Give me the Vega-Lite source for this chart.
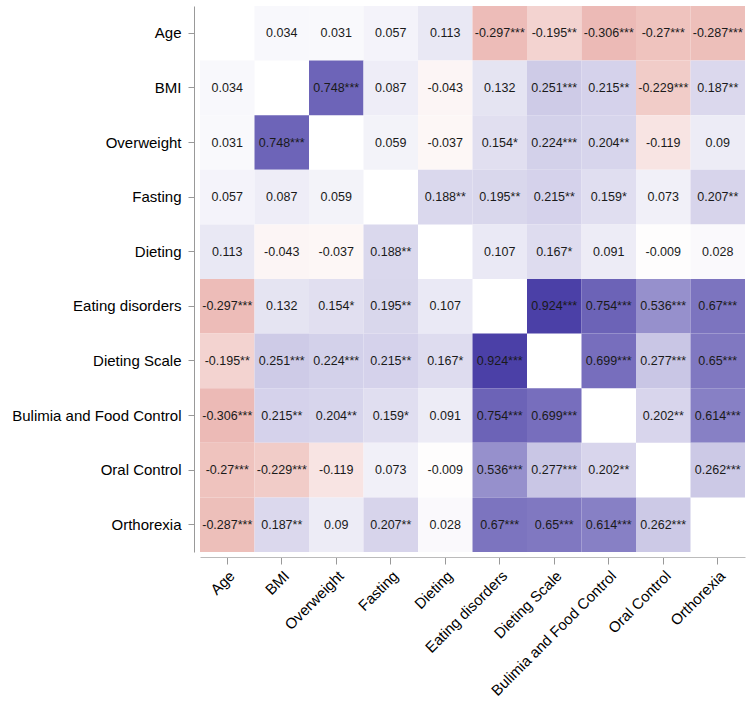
{
  "$schema": "https://vega.github.io/schema/vega-lite/v6.json",
  "autosize": {"type": "none"},
  "padding": {"left": 200, "top": 6, "right": 9, "bottom": 153},
  "width": 545,
  "height": 546,
  "config": {"view": {"stroke": null}, "font": "Liberation Sans"},
  "data": {"values": [
    {"r":"Age","c":"BMI","v":0.034,"t":"0.034"},
    {"r":"Age","c":"Overweight","v":0.031,"t":"0.031"},
    {"r":"Age","c":"Fasting","v":0.057,"t":"0.057"},
    {"r":"Age","c":"Dieting","v":0.113,"t":"0.113"},
    {"r":"Age","c":"Eating disorders","v":-0.297,"t":"-0.297***"},
    {"r":"Age","c":"Dieting Scale","v":-0.195,"t":"-0.195**"},
    {"r":"Age","c":"Bulimia and Food Control","v":-0.306,"t":"-0.306***"},
    {"r":"Age","c":"Oral Control","v":-0.27,"t":"-0.27***"},
    {"r":"Age","c":"Orthorexia","v":-0.287,"t":"-0.287***"},
    {"r":"BMI","c":"Age","v":0.034,"t":"0.034"},
    {"r":"BMI","c":"Overweight","v":0.748,"t":"0.748***"},
    {"r":"BMI","c":"Fasting","v":0.087,"t":"0.087"},
    {"r":"BMI","c":"Dieting","v":-0.043,"t":"-0.043"},
    {"r":"BMI","c":"Eating disorders","v":0.132,"t":"0.132"},
    {"r":"BMI","c":"Dieting Scale","v":0.251,"t":"0.251***"},
    {"r":"BMI","c":"Bulimia and Food Control","v":0.215,"t":"0.215**"},
    {"r":"BMI","c":"Oral Control","v":-0.229,"t":"-0.229***"},
    {"r":"BMI","c":"Orthorexia","v":0.187,"t":"0.187**"},
    {"r":"Overweight","c":"Age","v":0.031,"t":"0.031"},
    {"r":"Overweight","c":"BMI","v":0.748,"t":"0.748***"},
    {"r":"Overweight","c":"Fasting","v":0.059,"t":"0.059"},
    {"r":"Overweight","c":"Dieting","v":-0.037,"t":"-0.037"},
    {"r":"Overweight","c":"Eating disorders","v":0.154,"t":"0.154*"},
    {"r":"Overweight","c":"Dieting Scale","v":0.224,"t":"0.224***"},
    {"r":"Overweight","c":"Bulimia and Food Control","v":0.204,"t":"0.204**"},
    {"r":"Overweight","c":"Oral Control","v":-0.119,"t":"-0.119"},
    {"r":"Overweight","c":"Orthorexia","v":0.09,"t":"0.09"},
    {"r":"Fasting","c":"Age","v":0.057,"t":"0.057"},
    {"r":"Fasting","c":"BMI","v":0.087,"t":"0.087"},
    {"r":"Fasting","c":"Overweight","v":0.059,"t":"0.059"},
    {"r":"Fasting","c":"Dieting","v":0.188,"t":"0.188**"},
    {"r":"Fasting","c":"Eating disorders","v":0.195,"t":"0.195**"},
    {"r":"Fasting","c":"Dieting Scale","v":0.215,"t":"0.215**"},
    {"r":"Fasting","c":"Bulimia and Food Control","v":0.159,"t":"0.159*"},
    {"r":"Fasting","c":"Oral Control","v":0.073,"t":"0.073"},
    {"r":"Fasting","c":"Orthorexia","v":0.207,"t":"0.207**"},
    {"r":"Dieting","c":"Age","v":0.113,"t":"0.113"},
    {"r":"Dieting","c":"BMI","v":-0.043,"t":"-0.043"},
    {"r":"Dieting","c":"Overweight","v":-0.037,"t":"-0.037"},
    {"r":"Dieting","c":"Fasting","v":0.188,"t":"0.188**"},
    {"r":"Dieting","c":"Eating disorders","v":0.107,"t":"0.107"},
    {"r":"Dieting","c":"Dieting Scale","v":0.167,"t":"0.167*"},
    {"r":"Dieting","c":"Bulimia and Food Control","v":0.091,"t":"0.091"},
    {"r":"Dieting","c":"Oral Control","v":-0.009,"t":"-0.009"},
    {"r":"Dieting","c":"Orthorexia","v":0.028,"t":"0.028"},
    {"r":"Eating disorders","c":"Age","v":-0.297,"t":"-0.297***"},
    {"r":"Eating disorders","c":"BMI","v":0.132,"t":"0.132"},
    {"r":"Eating disorders","c":"Overweight","v":0.154,"t":"0.154*"},
    {"r":"Eating disorders","c":"Fasting","v":0.195,"t":"0.195**"},
    {"r":"Eating disorders","c":"Dieting","v":0.107,"t":"0.107"},
    {"r":"Eating disorders","c":"Dieting Scale","v":0.924,"t":"0.924***"},
    {"r":"Eating disorders","c":"Bulimia and Food Control","v":0.754,"t":"0.754***"},
    {"r":"Eating disorders","c":"Oral Control","v":0.536,"t":"0.536***"},
    {"r":"Eating disorders","c":"Orthorexia","v":0.67,"t":"0.67***"},
    {"r":"Dieting Scale","c":"Age","v":-0.195,"t":"-0.195**"},
    {"r":"Dieting Scale","c":"BMI","v":0.251,"t":"0.251***"},
    {"r":"Dieting Scale","c":"Overweight","v":0.224,"t":"0.224***"},
    {"r":"Dieting Scale","c":"Fasting","v":0.215,"t":"0.215**"},
    {"r":"Dieting Scale","c":"Dieting","v":0.167,"t":"0.167*"},
    {"r":"Dieting Scale","c":"Eating disorders","v":0.924,"t":"0.924***"},
    {"r":"Dieting Scale","c":"Bulimia and Food Control","v":0.699,"t":"0.699***"},
    {"r":"Dieting Scale","c":"Oral Control","v":0.277,"t":"0.277***"},
    {"r":"Dieting Scale","c":"Orthorexia","v":0.65,"t":"0.65***"},
    {"r":"Bulimia and Food Control","c":"Age","v":-0.306,"t":"-0.306***"},
    {"r":"Bulimia and Food Control","c":"BMI","v":0.215,"t":"0.215**"},
    {"r":"Bulimia and Food Control","c":"Overweight","v":0.204,"t":"0.204**"},
    {"r":"Bulimia and Food Control","c":"Fasting","v":0.159,"t":"0.159*"},
    {"r":"Bulimia and Food Control","c":"Dieting","v":0.091,"t":"0.091"},
    {"r":"Bulimia and Food Control","c":"Eating disorders","v":0.754,"t":"0.754***"},
    {"r":"Bulimia and Food Control","c":"Dieting Scale","v":0.699,"t":"0.699***"},
    {"r":"Bulimia and Food Control","c":"Oral Control","v":0.202,"t":"0.202**"},
    {"r":"Bulimia and Food Control","c":"Orthorexia","v":0.614,"t":"0.614***"},
    {"r":"Oral Control","c":"Age","v":-0.27,"t":"-0.27***"},
    {"r":"Oral Control","c":"BMI","v":-0.229,"t":"-0.229***"},
    {"r":"Oral Control","c":"Overweight","v":-0.119,"t":"-0.119"},
    {"r":"Oral Control","c":"Fasting","v":0.073,"t":"0.073"},
    {"r":"Oral Control","c":"Dieting","v":-0.009,"t":"-0.009"},
    {"r":"Oral Control","c":"Eating disorders","v":0.536,"t":"0.536***"},
    {"r":"Oral Control","c":"Dieting Scale","v":0.277,"t":"0.277***"},
    {"r":"Oral Control","c":"Bulimia and Food Control","v":0.202,"t":"0.202**"},
    {"r":"Oral Control","c":"Orthorexia","v":0.262,"t":"0.262***"},
    {"r":"Orthorexia","c":"Age","v":-0.287,"t":"-0.287***"},
    {"r":"Orthorexia","c":"BMI","v":0.187,"t":"0.187**"},
    {"r":"Orthorexia","c":"Overweight","v":0.09,"t":"0.09"},
    {"r":"Orthorexia","c":"Fasting","v":0.207,"t":"0.207**"},
    {"r":"Orthorexia","c":"Dieting","v":0.028,"t":"0.028"},
    {"r":"Orthorexia","c":"Eating disorders","v":0.67,"t":"0.67***"},
    {"r":"Orthorexia","c":"Dieting Scale","v":0.65,"t":"0.65***"},
    {"r":"Orthorexia","c":"Bulimia and Food Control","v":0.614,"t":"0.614***"},
    {"r":"Orthorexia","c":"Oral Control","v":0.262,"t":"0.262***"}
  ]},
  "encoding": {
    "x": {"field": "c", "type": "nominal", "title": null,
      "scale": {"domain": ["Age","BMI","Overweight","Fasting","Dieting","Eating disorders","Dieting Scale","Bulimia and Food Control","Oral Control","Orthorexia"], "paddingInner": 0, "paddingOuter": 0},
      "axis": {"orient": "bottom", "offset": 5, "labelAngle": -45, "labelAlign": "right", "labelBaseline": "top", "labelFontSize": 15, "labelColor": "#000000", "labelPadding": 4, "tickSize": 7, "tickColor": "#999999", "domainColor": "#bbbbbb", "labelLimit": 300}},
    "y": {"field": "r", "type": "nominal", "title": null,
      "scale": {"domain": ["Age","BMI","Overweight","Fasting","Dieting","Eating disorders","Dieting Scale","Bulimia and Food Control","Oral Control","Orthorexia"], "paddingInner": 0, "paddingOuter": 0},
      "axis": {"offset": 6, "labelFontSize": 15, "labelColor": "#000000", "labelPadding": 7, "tickSize": 6, "tickColor": "#999999", "domainColor": "#999999", "labelLimit": 300}}
  },
  "layer": [
    {"mark": {"type": "rect"},
     "encoding": {"color": {"field": "v", "type": "quantitative", "legend": null,
       "scale": {"type": "linear", "domain": [-1, 0, 1], "range": ["#c21f10", "#ffffff", "#3c30a0"], "interpolate": "rgb"}}}},
    {"mark": {"type": "text", "fontSize": 12.5, "color": "#1a1a1a"},
     "encoding": {"text": {"field": "t", "type": "nominal"}}}
  ]
}
